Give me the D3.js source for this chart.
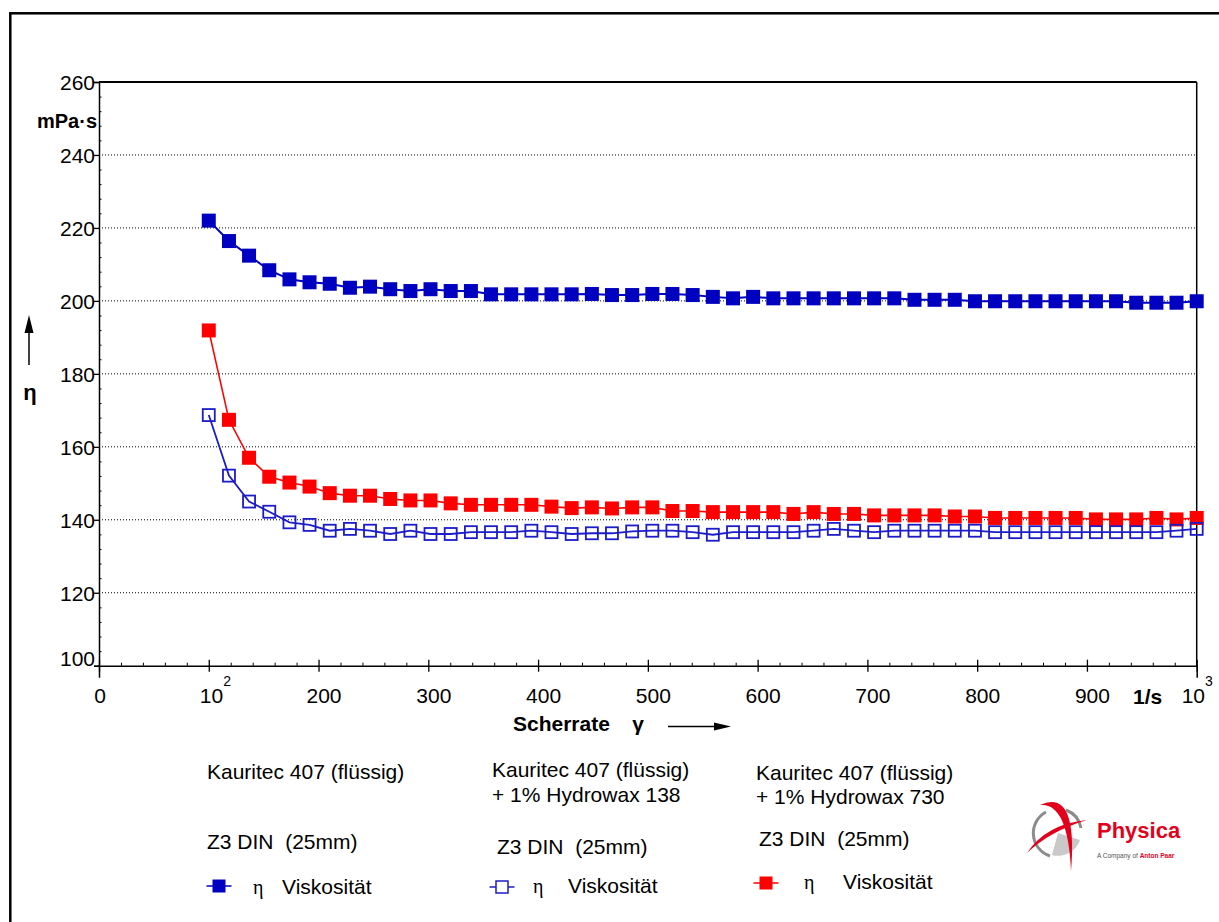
<!DOCTYPE html>
<html>
<head>
<meta charset="utf-8">
<script src="https://cdn.jsdelivr.net/npm/d3@7"></script>
<style>
  body { margin: 0; background: #fff; }
  svg text { font-family: "Liberation Sans", Arial, sans-serif; fill: #000; }
</style>
</head>
<body>
<svg width="1219" height="922"></svg>
<script>
// shear rate 1/s (50 measuring points)
var shearRate = [100, 118.4, 136.7, 155.1, 173.5, 191.8, 210.2, 228.6, 246.9, 265.3,
  283.7, 302.0, 320.4, 338.8, 357.1, 375.5, 393.9, 412.2, 430.6, 449.0,
  467.3, 485.7, 504.1, 522.4, 540.8, 559.2, 577.6, 595.9, 614.3, 632.7,
  651.0, 669.4, 687.8, 706.1, 724.5, 742.9, 761.2, 779.6, 798.0, 816.3,
  834.7, 853.1, 871.4, 889.8, 908.2, 926.5, 944.9, 963.3, 981.6, 1000];

// viscosity mPa·s
var etaKauritec = [222.0, 216.4, 212.4, 208.4, 205.9, 205.1, 204.7, 203.6, 203.9, 203.2,
  202.7, 203.2, 202.7, 202.7, 201.8, 201.8, 201.8, 201.8, 201.8, 201.9,
  201.6, 201.6, 201.9, 201.9, 201.6, 201.1, 200.7, 201.1, 200.7, 200.7,
  200.7, 200.7, 200.7, 200.7, 200.7, 200.3, 200.3, 200.3, 199.9, 199.9,
  199.9, 199.9, 199.9, 199.9, 199.9, 199.9, 199.5, 199.5, 199.5, 199.9];

var etaHydrowax138 = [168.7, 152.1, 145.0, 142.2, 139.3, 138.6, 137.0, 137.5, 137.0, 136.1,
  137.0, 136.1, 136.1, 136.6, 136.6, 136.6, 137.0, 136.6, 136.1, 136.3,
  136.3, 136.8, 137.0, 137.0, 136.6, 135.9, 136.6, 136.6, 136.6, 136.6,
  137.0, 137.5, 137.0, 136.6, 137.0, 137.0, 137.0, 137.0, 137.0, 136.6,
  136.6, 136.6, 136.6, 136.6, 136.6, 136.6, 136.6, 136.6, 137.0, 137.5];

var etaHydrowax730 = [191.9, 167.4, 157.0, 151.8, 150.2, 149.1, 147.3, 146.6, 146.6, 145.7,
  145.3, 145.3, 144.5, 144.1, 144.1, 144.1, 144.1, 143.6, 143.2, 143.4,
  143.1, 143.4, 143.4, 142.4, 142.4, 142.1, 142.1, 142.1, 142.1, 141.6,
  142.1, 141.6, 141.6, 141.2, 141.2, 141.2, 141.2, 140.9, 140.9, 140.5,
  140.5, 140.5, 140.5, 140.5, 140.1, 140.1, 140.1, 140.5, 140.1, 140.5];

var yTickValues = [100, 120, 140, 160, 180, 200, 220, 240, 260];
var yGridValues = [120, 140, 160, 180, 200, 220, 240];
var xTickValues = [0, 100, 200, 300, 400, 500, 600, 700, 800, 900, 1000];
var xTickLabels = ["0", "10", "200", "300", "400", "500", "600", "700", "800", "900", "10"];
var xTickExponents = ["", "2", "", "", "", "", "", "", "", "", "3"];

var legendTitles = [
  ["Kauritec 407 (flüssig)"],
  ["Kauritec 407 (flüssig)", "+ 1% Hydrowax 138"],
  ["Kauritec 407 (flüssig)", "+ 1% Hydrowax 730"]
];

var svg = d3.select("svg");

var x = d3.scaleLinear().domain([0, 1000]).range([99, 1196.7]);
var y = d3.scaleLinear().domain([100, 260]).range([665.7, 82]);

// outer frame
svg.append("rect")
  .attr("x", 10.3).attr("y", 13.3)
  .attr("width", 1240).attr("height", 940)
  .attr("fill", "none").attr("stroke", "#000").attr("stroke-width", 2.5);

// dotted grid
svg.append("g").selectAll("line")
  .data(yGridValues)
  .enter().append("line")
  .attr("x1", x(0)).attr("x2", x(1000))
  .attr("y1", function(d) { return y(d); })
  .attr("y2", function(d) { return y(d); })
  .attr("stroke", "#000").attr("stroke-width", 1)
  .attr("stroke-dasharray", "1,2");

// frame of plot
svg.append("line").attr("x1", x(0)).attr("x2", x(1000)).attr("y1", y(260)).attr("y2", y(260))
  .attr("stroke", "#000").attr("stroke-width", 2);
svg.append("line").attr("x1", x(1000)).attr("x2", x(1000)).attr("y1", y(260)).attr("y2", y(100))
  .attr("stroke", "#000").attr("stroke-width", 1.5);

// y axis
var yAxis = svg.append("g").attr("transform", "translate(" + x(0) + ",0)")
  .call(d3.axisLeft(y).tickValues(yTickValues).tickSize(5).tickFormat(""));
yAxis.select(".domain").attr("stroke-width", 1.5);
yAxis.selectAll(".tick line").attr("stroke-width", 1.3);

svg.append("g").attr("transform", "translate(" + x(0) + ",0)")
  .call(d3.axisRight(y).tickValues(d3.range(104, 260, 4).filter(function(d) { return d % 20 !== 0; }))
    .tickSize(2.5).tickFormat(""))
  .call(function(g) { g.select(".domain").remove(); });

svg.append("g").selectAll("text")
  .data(yTickValues)
  .enter().append("text")
  .attr("x", 95)
  .attr("y", function(d) { return d === 100 ? y(d) : y(d) + 8; })
  .attr("text-anchor", "end")
  .attr("font-size", 21)
  .text(function(d) { return d; });

// x axis
var xAxis = svg.append("g").attr("transform", "translate(0," + y(100) + ")")
  .call(d3.axisBottom(x).tickValues(xTickValues).tickSize(12).tickFormat(""));
xAxis.select(".domain").attr("stroke-width", 1.5);
xAxis.selectAll(".tick line").attr("y1", -6).attr("y2", 6).attr("stroke-width", 1.3);

svg.append("g").attr("transform", "translate(0," + y(100) + ")")
  .call(d3.axisTop(x).tickValues(d3.range(20, 1000, 20).filter(function(d) { return d % 100 !== 0; }))
    .tickSize(3).tickFormat(""))
  .call(function(g) { g.select(".domain").remove(); });

var xl = svg.append("g");
xTickValues.forEach(function(v, i) {
  var lab = xTickLabels[i];
  if (xTickExponents[i]) {
    var t = xl.append("text").attr("x", x(v) - (v === 1000 ? 15 : 9)).attr("y", 703).attr("font-size", 21);
    t.append("tspan").text(lab);
    t.append("tspan").attr("dy", -17).attr("font-size", 14).text(xTickExponents[i]);
  } else {
    xl.append("text").attr("x", x(v) + (lab.length > 1 ? 5.5 : 1)).attr("y", 703)
      .attr("text-anchor", "middle").attr("font-size", 21).text(lab);
  }
});

svg.append("text").attr("x", 1133).attr("y", 703.5)
  .attr("font-size", 21).attr("font-weight", "bold").text("1/s");

// axis titles
svg.append("text").attr("x", 513).attr("y", 731)
  .attr("font-size", 21).attr("font-weight", "bold").text("Scherrate");
svg.append("text").attr("x", 638).attr("y", 731).attr("text-anchor", "middle")
  .attr("font-size", 21).attr("font-weight", "bold").text("γ");
svg.append("line").attr("x1", 668).attr("x2", 716).attr("y1", 726.5).attr("y2", 726.5)
  .attr("stroke", "#000").attr("stroke-width", 1.5);
svg.append("path").attr("d", "M714,722.5 L731,726.5 L714,730.5 Z").attr("fill", "#000");

svg.append("text").attr("x", 97).attr("y", 128).attr("text-anchor", "end")
  .attr("font-size", 20).attr("font-weight", "bold").text("mPa·s");
svg.append("line").attr("x1", 29).attr("x2", 29).attr("y1", 365).attr("y2", 330)
  .attr("stroke", "#000").attr("stroke-width", 1.5);
svg.append("path").attr("d", "M24.5,333 L29,315 L33.5,333 Z").attr("fill", "#000");
svg.append("text").attr("x", 30).attr("y", 400).attr("text-anchor", "middle")
  .attr("font-size", 22).attr("font-weight", "bold").text("η");

// series
var series = [
  { values: etaHydrowax730, color: "#ff0000", fill: "#ff0000", width: 1.6, size: 14 },
  { values: etaHydrowax138, color: "#1c1cc8", fill: "none", width: 1.8, size: 12 },
  { values: etaKauritec, color: "#0000c0", fill: "#0000c0", width: 2, size: 14 }
];

var line = d3.line()
  .x(function(d) { return x(d[0]); })
  .y(function(d) { return y(d[1]); });

series.forEach(function(s) {
  var pts = d3.zip(shearRate, s.values);
  var g = svg.append("g");
  g.append("path").datum(pts).attr("d", line)
    .attr("fill", "none").attr("stroke", s.color).attr("stroke-width", s.width);
  g.selectAll("rect").data(pts).enter().append("rect")
    .attr("x", function(d) { return x(d[0]) - s.size / 2; })
    .attr("y", function(d) { return y(d[1]) - s.size / 2; })
    .attr("width", s.size).attr("height", s.size)
    .attr("fill", s.fill)
    .attr("stroke", s.fill === "none" ? s.color : "none")
    .attr("stroke-width", 1.8);
});

// legend
var legendCols = [
  { x: 207, titleY: [779], dinX: 207, dinY: 849, mx: 219, my: 886, etaX: 253, visX: 282, visY: 894,
    color: "#0000c0", fill: "#0000c0" },
  { x: 492, titleY: [777, 802], dinX: 497, dinY: 854, mx: 502, my: 887, etaX: 533, visX: 568, visY: 893,
    color: "#1c1cc8", fill: "none" },
  { x: 756, titleY: [780, 804], dinX: 759, dinY: 846, mx: 766, my: 883, etaX: 804, visX: 843, visY: 889,
    color: "#ff0000", fill: "#ff0000" }
];

legendCols.forEach(function(c, i) {
  var g = svg.append("g");
  legendTitles[i].forEach(function(t, j) {
    g.append("text").attr("x", c.x).attr("y", c.titleY[j]).attr("font-size", 21).text(t);
  });
  g.append("text").attr("x", c.dinX).attr("y", c.dinY).attr("font-size", 21)
    .attr("xml:space", "preserve").text("Z3 DIN  (25mm)");
  g.append("line").attr("x1", c.mx - 12.5).attr("x2", c.mx + 12.5).attr("y1", c.my).attr("y2", c.my)
    .attr("stroke", c.color).attr("stroke-width", 1.5);
  var sz = c.fill === "none" ? 12 : 13;
  g.append("rect").attr("x", c.mx - sz / 2).attr("y", c.my - sz / 2).attr("width", sz).attr("height", sz)
    .attr("fill", c.fill === "none" ? "#fff" : c.fill)
    .attr("stroke", c.fill === "none" ? c.color : "none").attr("stroke-width", 1.5);
  g.append("text").attr("x", c.etaX).attr("y", c.visY).attr("font-size", 20)
    .style("font-family", "'Liberation Serif', serif").text("η");
  g.append("text").attr("x", c.visX).attr("y", c.visY).attr("font-size", 21).text("Viskosität");
});

// Physica logo
var logo = svg.append("g");
logo.append("path")
  .attr("d", "M1058,833 L1080,840 A23,23 0 0,1 1052,855 Z")
  .attr("fill", "#c9c9c9");
logo.append("path")
  .attr("d", "M1046,812 A24,24 0 0,0 1050,856")
  .attr("fill", "none").attr("stroke", "#8c8c8c").attr("stroke-width", 3);
logo.append("path")
  .attr("d", "M1066,810 A24,24 0 0,1 1081,828")
  .attr("fill", "none").attr("stroke", "#8c8c8c").attr("stroke-width", 3);
logo.append("path")
  .attr("d", "M1040,805 Q1078,788 1071,871 Q1068,802 1040,805 Z")
  .attr("fill", "#e3001b");
logo.append("path")
  .attr("d", "M1027,853 Q1046,824 1087,820 Q1050,831 1027,853 Z")
  .attr("fill", "#e3001b");
logo.append("text").attr("x", 1097).attr("y", 838)
  .attr("font-size", 22).attr("font-weight", "bold").style("fill", "#e3001b").text("Physica");
var small = logo.append("text").attr("x", 1097).attr("y", 858).attr("font-size", 6.5);
small.append("tspan").style("fill", "#555").text("A Company of ");
small.append("tspan").style("fill", "#e3001b").attr("font-weight", "bold").text("Anton Paar");
</script>
</body>
</html>
